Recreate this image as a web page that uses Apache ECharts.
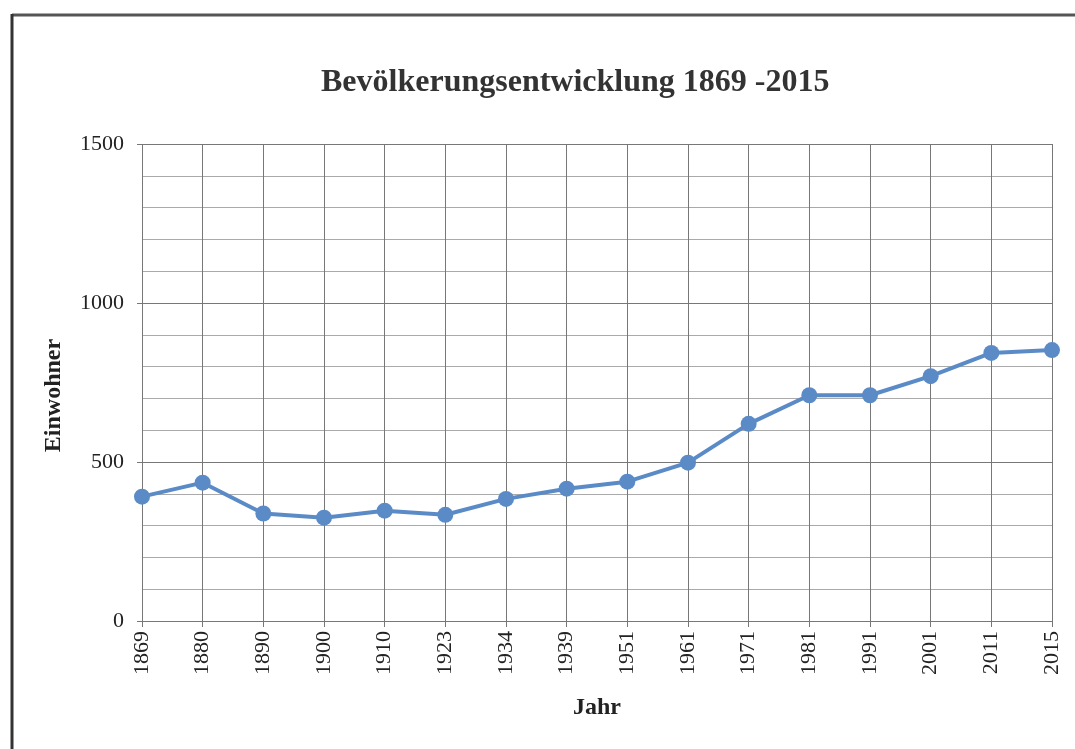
<!DOCTYPE html>
<html>
<head>
<meta charset="utf-8">
<script src="https://cdn.jsdelivr.net/npm/echarts@6/dist/echarts.min.js"></script>
<style>
  html, body { margin: 0; padding: 0; background: #fff; }
  #chart { width: 1075px; height: 749px; }
</style>
</head>
<body>
<div id="chart"></div>
<script>
// Jahre (x-Achse)
const years = ['1869', '1880', '1890', '1900', '1910', '1923', '1934', '1939',
  '1951', '1961', '1971', '1981', '1991', '2001', '2011', '2015']
// Einwohner je Jahr
const population = [391, 435, 338, 325, 347, 334, 384, 416,
  438, 498, 620, 710, 710, 770, 843, 852]
// y-Achse
const yMin = 0
const yMax = 1500
const yStep = 500

const serif = '"Liberation Serif", "DejaVu Serif", serif'

var myChart = echarts.init(document.getElementById('chart'))

var option = {
  backgroundColor: '#fff',
  animation: false,
  title: {
    text: 'Bevölkerungsentwicklung 1869 -2015',
    left: 316,
    top: 62,
    textStyle: {
      fontFamily: serif,
      fontSize: 32,
      fontWeight: 'bold',
      color: '#333'
    }
  },
  graphic: [
    // Rahmen (Scan)
    {
      type: 'line',
      shape: { x1: 12, y1: 15, x2: 1075, y2: 15 },
      style: { stroke: '#555', lineWidth: 3 }
    },
    {
      type: 'line',
      shape: { x1: 12, y1: 14, x2: 12, y2: 749 },
      style: { stroke: '#333', lineWidth: 3 }
    }
  ],
  grid: {
    left: 142,
    right: 23,
    top: 144,
    bottom: 128
  },
  xAxis: {
    type: 'category',
    data: years,
    boundaryGap: false,
    name: 'Jahr',
    nameLocation: 'middle',
    nameGap: 75,
    nameTextStyle: {
      fontFamily: serif,
      fontSize: 24,
      fontWeight: 'bold',
      color: '#222'
    },
    axisLine: { lineStyle: { color: '#777', width: 1 } },
    axisTick: { show: true, length: 6, lineStyle: { color: '#777' } },
    axisLabel: {
      rotate: 90,
      interval: 0,
      margin: 10,
      fontFamily: serif,
      fontSize: 22,
      color: '#222'
    },
    splitLine: { show: true, lineStyle: { color: '#777', width: 1 } }
  },
  yAxis: {
    type: 'value',
    min: yMin,
    max: yMax,
    interval: yStep,
    name: 'Einwohner',
    nameLocation: 'middle',
    nameGap: 76,
    nameRotate: 90,
    nameTextStyle: {
      fontFamily: serif,
      fontSize: 24,
      fontWeight: 'bold',
      color: '#222',
      padding: [0, 26, 0, 0]
    },
    axisLine: { show: false },
    axisTick: { show: true, length: 5, lineStyle: { color: '#777' } },
    axisLabel: {
      margin: 18,
      fontFamily: serif,
      fontSize: 22,
      color: '#222',
      formatter: v => String(v)
    },
    splitLine: { show: true, lineStyle: { color: '#777', width: 1 } },
    minorTick: { show: false, splitNumber: 5 },
    minorSplitLine: { show: true, lineStyle: { color: '#aaa', width: 1 } }
  },
  series: [
    {
      name: 'Einwohner',
      type: 'line',
      data: population,
      symbol: 'circle',
      symbolSize: 16,
      lineStyle: { color: '#5b8bc7', width: 4 },
      itemStyle: { color: '#5b8bc7' }
    }
  ]
}

myChart.setOption(option)
</script>
</body>
</html>
